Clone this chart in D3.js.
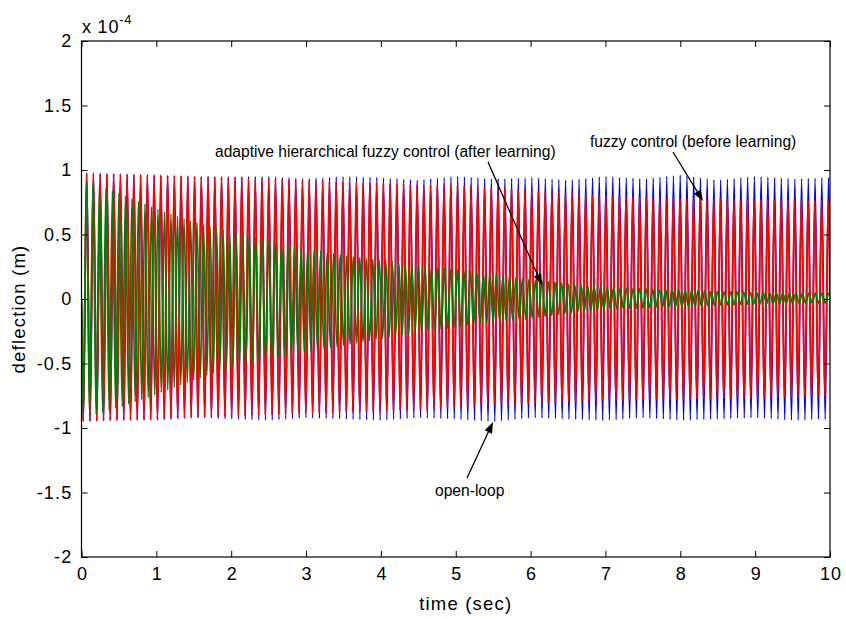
<!DOCTYPE html>
<html>
<head>
<meta charset="utf-8">
<script src="https://cdn.jsdelivr.net/npm/d3@7"></script>
<style>
  html, body { margin: 0; padding: 0; background: #fff; }
  text { font-family: "Liberation Sans", Arial, Helvetica, sans-serif; fill: #000; }
</style>
</head>
<body>
<svg id="chart" width="846" height="619"></svg>
<script>
// ---- data ----
// envelope sample times (sec)
const envTimes = [0, 0.5, 1, 1.5, 2, 2.5, 3, 3.5, 4, 4.5, 5, 5.5, 6, 6.5, 7, 7.5, 8, 8.5, 9, 9.5, 10];
// open-loop (blue): peak values (x 1e-4 m)
const openLoopUpper = [0.98, 0.97, 0.96, 0.95, 0.95, 0.95, 0.93, 0.95, 0.94, 0.92, 0.95, 0.93, 0.94, 0.92, 0.95, 0.93, 0.96, 0.92, 0.95, 0.93, 0.94];
const openLoopLower = [-0.95, -0.94, -0.94, -0.92, -0.93, -0.94, -0.92, -0.93, -0.94, -0.92, -0.93, -0.95, -0.92, -0.93, -0.94, -0.92, -0.94, -0.93, -0.92, -0.94, -0.93];
// fuzzy control before learning (red)
const fuzzyUpper = [0.97, 0.97, 0.96, 0.95, 0.94, 0.93, 0.92, 0.91, 0.90, 0.89, 0.88, 0.86, 0.84, 0.82, 0.80, 0.79, 0.78, 0.78, 0.77, 0.77, 0.76];
const fuzzyLower = [-0.95, -0.94, -0.93, -0.92, -0.91, -0.90, -0.89, -0.88, -0.87, -0.86, -0.84, -0.82, -0.81, -0.80, -0.79, -0.78, -0.78, -0.77, -0.77, -0.76, -0.76];
// adaptive hierarchical fuzzy control after learning (green)
const adaptiveUpper = [0.92, 0.82, 0.70, 0.60, 0.52, 0.45, 0.39, 0.34, 0.30, 0.26, 0.23, 0.19, 0.15, 0.12, 0.09, 0.08, 0.07, 0.06, 0.05, 0.045, 0.045];
const adaptiveLower = [-0.93, -0.84, -0.74, -0.63, -0.53, -0.46, -0.41, -0.36, -0.31, -0.26, -0.22, -0.18, -0.15, -0.11, -0.08, -0.07, -0.06, -0.05, -0.04, -0.035, -0.03];
// oscillation frequencies read from peak spacing (Hz) and phase lag (fraction of a period)
const openLoopFreq = 11.1, openLoopLag = 0.035;
const fuzzyFreq = 11.1, fuzzyLag = 0;
const adaptiveFreq = 11.5, adaptiveLag = 0;
// axis ticks
const xTicks = [0, 1, 2, 3, 4, 5, 6, 7, 8, 9, 10];
const yTicks = [-2, -1.5, -1, -0.5, 0, 0.5, 1, 1.5, 2];
const yTickLabels = ["-2", "-1.5", "-1", "-0.5", "0", "0.5", "1", "1.5", "2"];

// ---- layout ----
const svg = d3.select("#chart");
const L = 81.5, R = 830, T = 41, B = 557;
const x = d3.scaleLinear().domain([0, 10]).range([L, R]);
const y = d3.scaleLinear().domain([-2, 2]).range([B, T]);

svg.append("defs").append("clipPath").attr("id", "clip")
  .append("rect").attr("x", L).attr("y", T).attr("width", R - L).attr("height", B - T);

// build the sequence of alternating peaks of a series from its envelope
function peaks(freq, lag, upper, lower) {
  const up = d3.scaleLinear().domain(envTimes).range(upper);
  const lo = d3.scaleLinear().domain(envTimes).range(lower);
  const half = 1 / (2 * freq);
  const t0 = lag / freq;
  const pts = [[t0, 0]];
  for (let k = 0; ; k++) {
    const t = t0 + (k + 0.5) * half;
    const tc = Math.min(t, 10);
    pts.push([t, k % 2 === 0 ? lo(tc) : up(tc)]);
    if (t > 10.1) break;
  }
  if (t0 > 0) pts.unshift([0, 0]);
  return pts;
}

const line = d3.line()
  .x(d => x(d[0]))
  .y(d => y(d[1]))
  .curve(d3.curveMonotoneX);

const plot = svg.append("g").attr("clip-path", "url(#clip)");
const series = [
  { pts: peaks(openLoopFreq, openLoopLag, openLoopUpper, openLoopLower), color: "#0000ff", w: 1.5 },
  { pts: peaks(fuzzyFreq, fuzzyLag, fuzzyUpper, fuzzyLower), color: "#ff0000", w: 1.9 },
  { pts: peaks(adaptiveFreq, adaptiveLag, adaptiveUpper, adaptiveLower), color: "#007f00", w: 1.7 }
];
series.forEach(s => {
  plot.append("path")
    .attr("d", line(s.pts))
    .attr("fill", "none")
    .attr("stroke", s.color)
    .attr("stroke-width", s.w);
});

// ---- axes (box with inward ticks on all sides) ----
const tickLen = 6;
svg.append("rect").attr("x", L).attr("y", T).attr("width", R - L).attr("height", B - T)
  .attr("fill", "none").attr("stroke", "#000").attr("stroke-width", 1.2);

const bottomAxis = d3.axisBottom(x).tickValues(xTicks).tickSize(-tickLen).tickPadding(10).tickFormat(d3.format("d"));
const topAxis = d3.axisTop(x).tickValues(xTicks).tickSize(-tickLen).tickFormat("");
const leftAxis = d3.axisLeft(y).tickValues(yTicks).tickSize(-tickLen).tickPadding(9)
  .tickFormat((d, i) => yTickLabels[i]);
const rightAxis = d3.axisRight(y).tickValues(yTicks).tickSize(-tickLen).tickFormat("");

function styleAxis(g) {
  g.select(".domain").remove();
  g.selectAll(".tick line").attr("stroke", "#000").attr("stroke-width", 1);
  g.selectAll(".tick text").attr("font-family", "Liberation Sans, Arial, sans-serif")
    .attr("font-size", 18).attr("letter-spacing", 1.2).attr("fill", "#000");
}
svg.append("g").attr("transform", `translate(0,${B})`).call(bottomAxis).call(styleAxis)
  .selectAll(".tick text").attr("dx", 0.6);
svg.append("g").attr("transform", `translate(0,${T})`).call(topAxis).call(styleAxis);
svg.append("g").attr("transform", `translate(${L},0)`).call(leftAxis).call(styleAxis);
svg.append("g").attr("transform", `translate(${R},0)`).call(rightAxis).call(styleAxis);

// exponent label
const expo = svg.append("text").attr("x", 82).attr("y", 33).attr("font-size", 18).attr("letter-spacing", 0.8);
expo.append("tspan").text("x 10");
expo.append("tspan").attr("dy", -9).attr("font-size", 13).text("-4");

// axis titles
svg.append("text").attr("x", (L + R) / 2 + 10).attr("y", 610).attr("text-anchor", "middle")
  .attr("font-size", 18.5).attr("letter-spacing", 1.2).text("time (sec)");
svg.append("text").attr("transform", `translate(25,${(T + B) / 2 + 10}) rotate(-90)`)
  .attr("text-anchor", "middle").attr("font-size", 18.5).attr("letter-spacing", 1.2).text("deflection (m)");

// annotations
const annFont = 15.6;
svg.append("text").attr("x", 215).attr("y", 157).attr("font-size", annFont)
  .text("adaptive hierarchical fuzzy control (after learning)");
svg.append("text").attr("x", 590).attr("y", 147).attr("font-size", annFont)
  .text("fuzzy control (before learning)");
svg.append("text").attr("x", 435).attr("y", 496).attr("font-size", annFont)
  .text("open-loop");

function arrow(x1, y1, x2, y2) {
  const ang = Math.atan2(y2 - y1, x2 - x1);
  const hl = 11, hw = 4;
  const bx = x2 - hl * Math.cos(ang), by = y2 - hl * Math.sin(ang);
  const px = -Math.sin(ang) * hw, py = Math.cos(ang) * hw;
  svg.append("line").attr("x1", x1).attr("y1", y1).attr("x2", bx).attr("y2", by)
    .attr("stroke", "#000").attr("stroke-width", 1.3);
  svg.append("path")
    .attr("d", `M${x2},${y2}L${bx + px},${by + py}L${bx - px},${by - py}Z`)
    .attr("fill", "#000");
}
arrow(488, 162, 542, 285);
arrow(673, 152, 703, 201);
arrow(467, 478, 493, 422);
</script>
</body>
</html>
